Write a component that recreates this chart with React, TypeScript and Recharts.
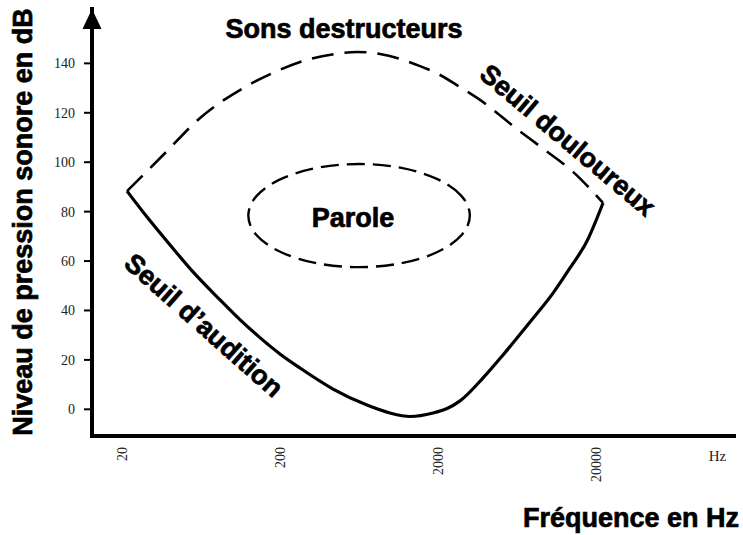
import { LineChart, Line, XAxis, YAxis, ReferenceDot } from 'recharts';

// Seuil d'audition (solid)
const audFreq = [21.5, 28.8, 40.3, 56.3, 83.5, 112, 150, 200, 268, 434, 712, 995, 1334, 1865, 2288, 2765, 3868, 5176, 7674, 10730, 13750, 17620, 22250];
const audDb = [88.3, 77.8, 66.5, 55.6, 44.3, 36.2, 28.9, 22.4, 16.7, 8.2, 1.7, -1.5, -2.9, -1.5, 0.3, 3.4, 12.7, 22.0, 35.3, 47.0, 57.2, 68.1, 83.5];

// Seuil douloureux / sons destructeurs (dashed)
const painFreq = [21.5, 36.4, 62.4, 117, 192, 310, 447, 616, 861, 1152, 1543, 2065, 2765, 3702, 6348, 9548, 14370, 22250];
const painDb = [88.3, 102.9, 117.9, 130.0, 136.9, 141.8, 143.8, 144.6, 143.8, 141.8, 138.9, 135.3, 130.4, 125.2, 113.4, 104.9, 96.1, 83.5];

// Zone de la parole (dashed, closed)
const speechFreq = [3327, 2931, 2046, 1197, 634, 336, 196, 137, 121, 137, 196, 336, 634, 1197, 2046, 2931];
const speechDb = [78.4, 86.6, 93.5, 98.2, 99.8, 98.2, 93.5, 86.6, 78.4, 70.2, 63.3, 58.6, 57.0, 58.6, 63.3, 70.2];

const xTicks = [20, 200, 2000, 20000, 118000];
const yTicks = [0, 20, 40, 60, 80, 100, 120, 140];

const X_MIN = 12.9;
const X_MAX = 150300;
const Y_MIN = -10.8;
const Y_MAX = 162;

const audData = audFreq.map((f, i) => ({ f, db: audDb[i] }));
const painData = painFreq.map((f, i) => ({ f, db: painDb[i] }));
const speechData = speechFreq.map((f, i) => ({ f, db: speechDb[i] }));

const SANS = '"Liberation Sans", Arial, sans-serif';
const SERIF = '"Liberation Serif", "Times New Roman", serif';

const bold = {
  fontFamily: SANS,
  fontWeight: 700,
  fontSize: 27,
  fill: '#000',
  stroke: '#000',
  strokeWidth: 0.7,
};

function XTick(props: any) {
  const { x, y, payload } = props;
  if (payload.value > 50000) {
    return (
      <text x={x} y={y + 17} textAnchor="middle" fontFamily={SERIF} fontSize={15} fill="#222">
        Hz
      </text>
    );
  }
  return (
    <text
      transform={`translate(${x},${y + 3}) rotate(-90)`}
      textAnchor="end"
      dy="0.35em"
      fontFamily={SERIF}
      fontSize={14}
      fill="#222"
    >
      {payload.value}
    </text>
  );
}

function ArrowHead(props: any) {
  const { cx, cy } = props;
  return <polygon points={`${cx},${cy} ${cx - 9.5},${cy + 20} ${cx + 9.5},${cy + 20}`} fill="#000" />;
}

export default function App() {
  return (
    <div style={{ position: 'absolute', left: 0, top: 0, background: '#fff' }}>
      <LineChart width={743} height={535} margin={{ top: 9, right: 9, bottom: 38, left: 0 }}>
        <XAxis
          dataKey="f"
          type="number"
          scale="log"
          domain={[X_MIN, X_MAX]}
          allowDataOverflow
          ticks={xTicks}
          tick={<XTick />}
          tickLine={false}
          height={61}
          axisLine={{ stroke: '#000', strokeWidth: 4, strokeLinecap: 'square' }}
        />
        <YAxis
          type="number"
          domain={[Y_MIN, Y_MAX]}
          allowDataOverflow
          ticks={yTicks}
          width={92}
          tickSize={8}
          tickMargin={9}
          tickLine={{ stroke: '#000', strokeWidth: 2 }}
          tick={{ fontFamily: SERIF, fontSize: 14, fill: '#222' }}
          axisLine={{ stroke: '#000', strokeWidth: 4, strokeLinecap: 'square' }}
        />
        <Line
          data={painData}
          dataKey="db"
          type="monotone"
          stroke="#000"
          strokeWidth={2.6}
          strokeDasharray="22 11"
          dot={false}
          isAnimationActive={false}
        />
        <Line
          data={speechData}
          dataKey="db"
          type="basisClosed"
          stroke="#000"
          strokeWidth={2.4}
          strokeDasharray="18 8"
          dot={false}
          isAnimationActive={false}
        />
        <Line
          data={audData}
          dataKey="db"
          type="monotone"
          stroke="#000"
          strokeWidth={3.2}
          dot={false}
          isAnimationActive={false}
        />
        <ReferenceDot x={X_MIN} y={Y_MAX} ifOverflow="visible" shape={<ArrowHead />} />

        <text transform="translate(23,222) rotate(-90)" textAnchor="middle" dy="0.35em" {...bold}>
          Niveau de pression sonore en dB
        </text>
        <text x={631} y={527} textAnchor="middle" {...bold}>
          Fréquence en Hz
        </text>
        <text x={344} y={38} textAnchor="middle" {...bold}>
          Sons destructeurs
        </text>
        <text x={353} y={227} textAnchor="middle" {...bold}>
          Parole
        </text>
        <text transform="translate(568,140) rotate(40)" textAnchor="middle" dy="0.35em" {...bold}>
          Seuil douloureux
        </text>
        <text transform="translate(204,325) rotate(41.5)" textAnchor="middle" dy="0.35em" {...bold}>
          Seuil d’audition
        </text>
      </LineChart>
    </div>
  );
}
